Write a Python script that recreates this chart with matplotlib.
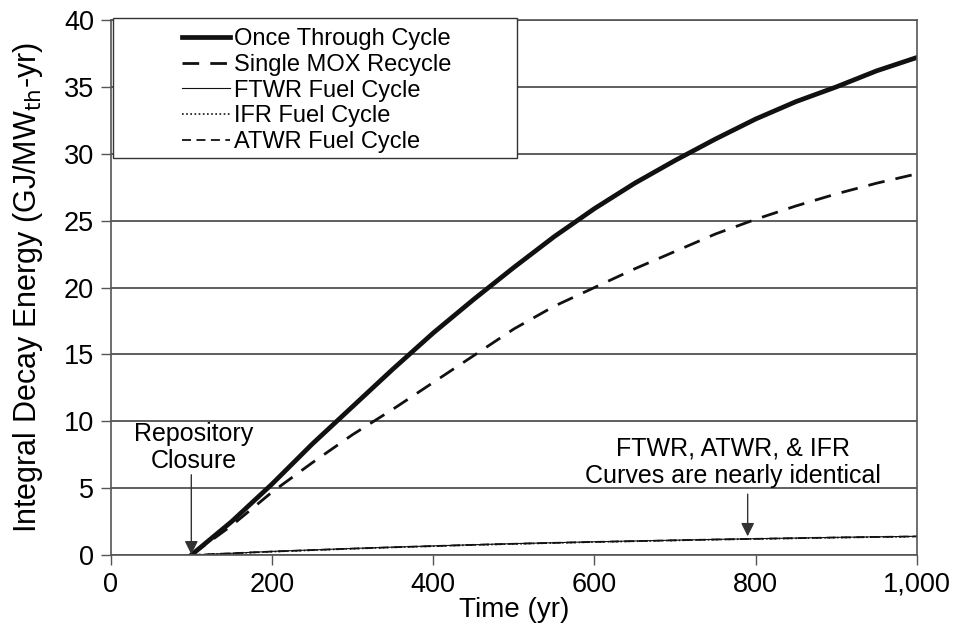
import numpy as np
import matplotlib
matplotlib.use("Agg")
import matplotlib.pyplot as plt
from matplotlib.patches import Rectangle

plt.rcParams['font.family'] = ['Liberation Sans', 'DejaVu Sans']

# values
years = [100, 150, 200, 250, 300, 350, 400, 450, 500, 550, 600,
         650, 700, 750, 800, 850, 900, 950, 1000]
once_through = [0, 2.5, 5.3, 8.3, 11.1, 13.9, 16.6, 19.1, 21.5, 23.8, 25.9,
                27.8, 29.5, 31.1, 32.6, 33.9, 35.0, 36.2, 37.2]
single_mox = [0, 2.2, 4.7, 6.9, 9.0, 10.9, 12.9, 14.9, 16.9, 18.6, 20.0,
              21.4, 22.7, 24.0, 25.1, 26.1, 27.0, 27.8, 28.5]
ftwr = [0, 0.13, 0.27, 0.38, 0.49, 0.59, 0.68, 0.77, 0.85, 0.92, 0.99,
        1.05, 1.11, 1.17, 1.22, 1.27, 1.32, 1.36, 1.40]
ifr = [0, 0.12, 0.25, 0.36, 0.47, 0.57, 0.66, 0.75, 0.83, 0.90, 0.97,
       1.03, 1.09, 1.15, 1.20, 1.25, 1.30, 1.34, 1.38]
atwr = [0, 0.13, 0.26, 0.37, 0.48, 0.58, 0.67, 0.76, 0.84, 0.91, 0.98,
        1.04, 1.10, 1.16, 1.21, 1.26, 1.31, 1.35, 1.39]

x_ticks = [0, 200, 400, 600, 800, 1000]
x_tick_labels = ['0', '200', '400', '600', '800', '1,000']
y_ticks = [0, 5, 10, 15, 20, 25, 30, 35, 40]

closure_year = 100
note_year = 790

fig = plt.figure(figsize=(9.55, 6.37), dpi=100)
ax = fig.add_axes([0.1159, 0.1287, 0.8443, 0.8399])

ax.plot(years, once_through, color='#111111', lw=3.4, ls='-',
        label='Once Through Cycle')
ax.plot(years, single_mox, color='#111111', lw=2.0, ls=(0, (6, 4)),
        label='Single MOX Recycle')
ax.plot(years, ftwr, color='#111111', lw=0.8, ls='-', label='FTWR Fuel Cycle')
ax.plot(years, ifr, color='#111111', lw=1.2, ls=(0, (1, 1.5)),
        label='IFR Fuel Cycle')
ax.plot(years, atwr, color='#111111', lw=1.3, ls=(0, (5, 3)),
        label='ATWR Fuel Cycle')

ax.set_xlim(0, 1000)
ax.set_ylim(0, 40)
ax.set_xticks(x_ticks)
ax.set_xticklabels(x_tick_labels)
ax.set_yticks(y_ticks)
ax.tick_params(axis='both', labelsize=19.5, length=7, width=1,
               color='#555555', direction='out', pad=5)
ax.yaxis.grid(True, color='#333333', lw=1.1)
ax.set_axisbelow(True)
for side in ['left', 'right', 'top', 'bottom']:
    ax.spines[side].set_color('#555555')
    ax.spines[side].set_linewidth(1.2)

ax.set_xlabel('Time (yr)', fontsize=20)
ax.set_ylabel('Integral Decay Energy (GJ/MW$_{\\rm th}$-yr)', fontsize=22)
ax.xaxis.set_label_coords(0.5, -0.078)
ax.yaxis.set_label_coords(-0.082, 0.5)

# legend: wide white box behind a centred legend
ax.add_patch(Rectangle((0.003, 0.742), 0.501, 0.262, transform=ax.transAxes,
                       facecolor='white', edgecolor='#333333', lw=1.0,
                       zorder=4, clip_on=False))
leg = ax.legend(loc='center', bbox_to_anchor=(0.256, 0.868),
                fontsize=17, handlelength=2.0, handletextpad=0.2,
                labelspacing=0.16, borderpad=0.1, frameon=False)
leg.set_zorder(5)

ax.text(closure_year + 3, 8.05, 'Repository\nClosure', ha='center',
        va='center', fontsize=18, linespacing=1.15)
ax.annotate('', xy=(closure_year, 0.05), xytext=(closure_year, 6.0),
            arrowprops=dict(arrowstyle='-|>', color='#333333', lw=1,
                            mutation_scale=20, shrinkA=0, shrinkB=0))
ax.text(772, 6.95, 'FTWR, ATWR, & IFR\nCurves are nearly identical',
        ha='center', va='center', fontsize=18, linespacing=1.2)
ax.annotate('', xy=(note_year, 1.4), xytext=(note_year, 4.55),
            arrowprops=dict(arrowstyle='-|>', color='#333333', lw=1,
                            mutation_scale=20, shrinkA=0, shrinkB=0))

fig.savefig('out.png', dpi=100)
